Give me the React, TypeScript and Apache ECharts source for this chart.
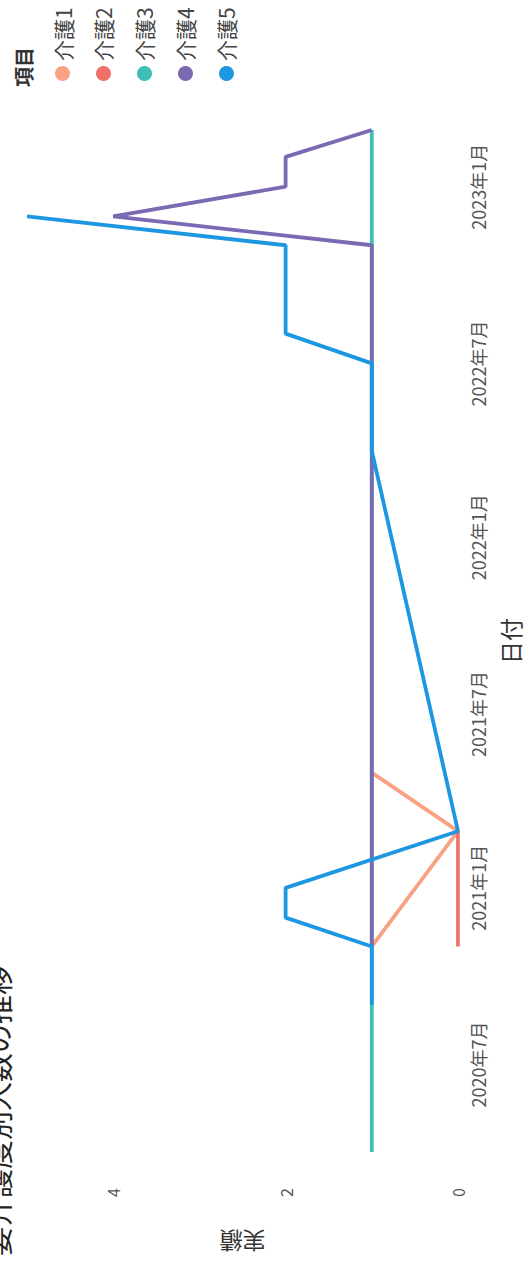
import React, { useEffect, useRef } from "react";
import * as echarts from "echarts";

const _ = null;

const months = [
  "2020-04", "2020-05", "2020-06", "2020-07", "2020-08", "2020-09", "2020-10", "2020-11", "2020-12",
  "2021-01", "2021-02", "2021-03", "2021-04", "2021-05", "2021-06", "2021-07", "2021-08", "2021-09",
  "2021-10", "2021-11", "2021-12", "2022-01", "2022-02", "2022-03", "2022-04", "2022-05", "2022-06",
  "2022-07", "2022-08", "2022-09", "2022-10", "2022-11", "2022-12", "2023-01", "2023-02", "2023-03",
];

const seriesNames = ["介護1", "介護2", "介護3", "介護4", "介護5"];

const kaigo1 = [_, _, _, _, _, _, _, 1, _, _, _, 0, _, 1, _, _, _, _, _, _, _, _, _, _, _, _, _, _, _, _, _, _, _, _, _, _];
const kaigo2 = [_, _, _, _, _, _, _, 0, 0, 0, 0, 0, _, _, _, _, _, _, _, _, _, _, _, _, _, _, _, _, _, _, _, _, _, _, _, _];
const kaigo3 = [1, 1, 1, 1, 1, 1, 1, 1, 1, 1, 1, 1, 1, 1, 1, 1, 1, 1, 1, 1, 1, 1, 1, 1, 1, 1, 1, 1, 1, 1, 1, 1, 1, 1, 1, 1];
const kaigo4 = [_, _, _, _, _, _, _, 1, 1, 1, 1, 1, 1, 1, 1, 1, 1, 1, 1, 1, 1, 1, 1, 1, 1, 1, 1, 1, 1, 1, 1, 1, 4, 2, 2, 1];
const kaigo5 = [_, _, _, _, _, 1, 1, 1, 2, 2, _, 0, _, _, _, _, _, _, _, _, _, _, _, _, 1, 1, 1, 1, 2, 2, 2, 2, 5, _, _, _];

const dateTicks = ["2020-07", "2021-01", "2021-07", "2022-01", "2022-07", "2023-01"];
const valueTicks = [0, 2, 4];

const colors = ["#F8A183", "#F0706A", "#3DBFB4", "#7B6AB3", "#1E97E2"];

const FONT = '"Noto Sans CJK JP", "Noto Sans", sans-serif';

function ts(m: string) {
  const [y, mo] = m.split("-").map(Number);
  return new Date(y, mo - 1, 1).getTime();
}

function toData(vals: (number | null)[]) {
  const out: [number, number][] = [];
  months.forEach((m, i) => {
    const v = vals[i];
    if (v !== null && v !== undefined) out.push([ts(m), v]);
  });
  return out;
}

export default function App() {
  const ref = useRef<HTMLDivElement>(null);
  useEffect(() => {
    if (!ref.current) return;
    const chart = echarts.init(ref.current, undefined, { renderer: "svg" });
    const all = [kaigo1, kaigo2, kaigo3, kaigo4, kaigo5];
    chart.setOption({
      animation: false,
      backgroundColor: "#ffffff",
      color: colors,
      textStyle: { fontFamily: FONT },
      title: [
        {
          text: "要介護度別人数の推移",
          left: 8,
          top: -18,
          padding: 0,
          textStyle: { fontSize: 29, fontWeight: "normal", color: "#252423", fontFamily: FONT },
        },
        {
          text: "項目",
          left: 1177,
          top: 13,
          padding: 0,
          textStyle: { fontSize: 20, fontWeight: "bold", color: "#333333", fontFamily: FONT },
        },
      ],
      legend: {
        data: seriesNames,
        orient: "vertical",
        left: 1183,
        top: 52,
        padding: 0,
        icon: "circle",
        itemWidth: 15,
        itemHeight: 15,
        itemGap: 20,
        textStyle: { fontSize: 21, color: "#444444", fontFamily: FONT },
      },
      grid: { left: 112, right: 130, top: 27, bottom: 65, containLabel: false },
      xAxis: {
        type: "value",
        min: ts(months[0]),
        max: ts(months[months.length - 1]),
        name: "日付",
        nameLocation: "middle",
        nameGap: 40,
        nameTextStyle: { fontSize: 23, color: "#333333", fontFamily: FONT },
        axisLine: { show: false },
        axisTick: { show: false },
        splitLine: { show: false },
        axisLabel: {
          customValues: dateTicks.map(ts),
          margin: 11,
          fontSize: 18,
          color: "#555555",
          fontFamily: FONT,
          formatter: (val: number) => {
            const d = new Date(val);
            return `${d.getFullYear()}年${d.getMonth() + 1}月`;
          },
        },
      },
      yAxis: {
        type: "value",
        min: 0,
        max: 5,
        name: "実績",
        nameLocation: "middle",
        nameGap: 78,
        nameTextStyle: { fontSize: 23, color: "#333333", fontFamily: FONT },
        axisLine: { show: false },
        axisTick: { show: false },
        splitLine: { show: false },
        axisLabel: {
          customValues: valueTicks,
          margin: 36,
          fontSize: 16,
          color: "#555555",
          fontFamily: FONT,
        },
      },
      series: seriesNames.map((name, i) => ({
        name,
        type: "line",
        data: toData(all[i]),
        showSymbol: false,
        symbol: "none",
        connectNulls: true,
        lineStyle: { width: 3.8, color: colors[i] },
        itemStyle: { color: colors[i] },
      })),
    });
    return () => chart.dispose();
  }, []);

  return (
    <div
      style={{
        position: "fixed",
        left: 0,
        top: 0,
        width: 526,
        height: 1264,
        overflow: "hidden",
        background: "#ffffff",
      }}
    >
      <div
        style={{
          position: "absolute",
          left: 0,
          top: 0,
          width: 1264,
          height: 526,
          transformOrigin: "0 0",
          transform: "translate(0px, 1264px) rotate(-90deg)",
        }}
      >
        <div ref={ref} style={{ width: 1264, height: 526 }} />
      </div>
    </div>
  );
}
